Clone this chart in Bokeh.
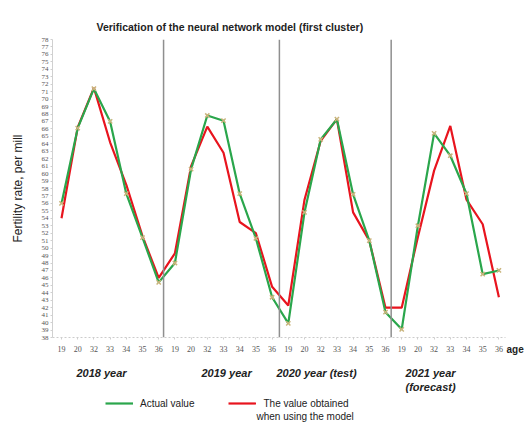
from bokeh.plotting import figure
from bokeh.layouts import column
from bokeh.models import (Range1d, FixedTicker, Span, Legend, LegendItem, LinearAxis, Label)
from bokeh.embed import file_html
from bokeh.resources import INLINE

# ---------------- data ----------------
ages = ["19", "20", "32", "33", "34", "35", "36"] * 4
actual = [56.0, 66.1, 71.4, 67.0, 57.3, 51.4, 45.4,
          48.0, 60.6, 67.8, 67.1, 57.3, 51.3, 43.4,
          39.9, 54.8, 64.6, 67.3, 57.2, 51.0, 41.4,
          39.1, 53.0, 65.4, 62.4, 57.3, 46.5, 47.0]
model = [54.0, 66.2, 71.5, 64.2, 58.5, 51.6, 46.0,
         49.3, 61.0, 66.3, 62.8, 53.5, 52.0, 44.8,
         42.3, 56.5, 64.4, 67.3, 54.8, 51.0, 42.0,
         42.0, 51.5, 60.4, 66.4, 56.5, 53.2, 43.4]
year_labels = ["2018 year", "2019 year", "2020 year (test)", "2021 year\n(forecast)"]
year_label_pos = [2.47, 10.19, 15.74, 22.78]
separators = [6.3, 13.45, 20.35]
y_ticks = list(range(38, 79))
idx = list(range(len(ages)))
age_label_pos = 28.0
series_names = ["Actual value", "The value obtained", "when using the model"]

GREEN = "#2aa64c"
RED = "#e8141e"

# ---------------- main figure ----------------
p = figure(width=524, height=395, output_backend="svg", toolbar_location=None,
           x_range=Range1d(-0.556, 28.58), y_range=Range1d(38, 78),
           min_border_left=52, min_border_right=0, min_border_top=39,
           min_border_bottom=58)
p.outline_line_color = None
p.xgrid.visible = False
p.ygrid.visible = False

p.title.text = "Verification of the neural network model (first cluster)"
p.title.align = "left"
p.title.offset = 44
p.title.text_font = "Liberation Sans"
p.title.text_font_size = "10.5px"
p.title.text_font_style = "bold"
p.title.text_color = "#222222"

# axis above the frame with undrawn labels: only lifts the title
spacer_axis = LinearAxis()
p.add_layout(spacer_axis, "above")

for s in separators:
    p.add_layout(Span(location=s, dimension="height", line_color="#8f8f8f", line_width=1.5))

p.line(idx, model, line_color=RED, line_width=2.2)
p.line(idx, actual, line_color=GREEN, line_width=2.2)
p.scatter(idx, actual, marker="x", size=6, line_color="#c9b47c", line_width=1.5)

# y axis
p.yaxis.ticker = FixedTicker(ticks=y_ticks)
p.yaxis.major_label_text_font = "Liberation Serif"
p.yaxis.major_label_text_font_size = "7px"
p.yaxis.major_label_text_color = "#555555"
p.yaxis.axis_line_color = "#d0d0d0"
p.yaxis.major_tick_line_color = "#d0d0d0"
p.yaxis.major_tick_out = 2
p.yaxis.major_tick_in = 0
p.yaxis.minor_tick_line_color = None
p.yaxis.major_label_standoff = 2
p.yaxis.axis_label = "Fertility rate, per mill"
p.yaxis.axis_label_text_font = "Liberation Sans"
p.yaxis.axis_label_text_font_style = "normal"
p.yaxis.axis_label_text_font_size = "12px"
p.yaxis.axis_label_text_color = "#222222"
p.yaxis.axis_label_standoff = 14

# x axis (ages)
p.xaxis.ticker = FixedTicker(ticks=idx)
p.xaxis.major_label_overrides = {i: a for i, a in zip(idx, ages)}
p.xaxis.major_label_text_font = "Liberation Serif"
p.xaxis.major_label_text_font_size = "8px"
p.xaxis.major_label_text_color = "#555555"
p.xaxis.axis_line_color = "#cccccc"
p.xaxis.axis_line_dash = "2 2"
p.xaxis.bounds = (-0.556, 27.4)
p.xaxis.major_tick_line_color = "#d0d0d0"
p.xaxis.major_tick_out = 2
p.xaxis.major_tick_in = 0
p.xaxis.minor_tick_line_color = None
p.xaxis.major_label_standoff = 6

# hide everything of the spacer axis
spacer_axis.major_label_text_color = None
spacer_axis.axis_line_color = None
spacer_axis.major_tick_line_color = None

age_axis = LinearAxis(ticker=FixedTicker(ticks=[age_label_pos]),
                      major_label_overrides={age_label_pos: "age"},
                      axis_line_color=None, major_tick_line_color=None,
                      minor_tick_line_color=None,
                      major_label_text_font="Liberation Sans",
                      major_label_text_font_size="10px",
                      major_label_text_font_style="bold",
                      major_label_text_color="#222222",
                      major_label_standoff=-17)
year_axis = LinearAxis(ticker=FixedTicker(ticks=year_label_pos),
                       major_label_overrides={k: v for k, v in zip(year_label_pos, year_labels)},
                       axis_line_color=None, major_tick_line_color=None,
                       minor_tick_line_color=None,
                       major_label_text_font="Liberation Sans",
                       major_label_text_font_size="11px",
                       major_label_text_font_style="bold italic",
                       major_label_text_color="#222222",
                       major_label_standoff=3)
p.add_layout(age_axis, "below")
p.add_layout(year_axis, "below")

# ---------------- legend strip ----------------
SH = 29
q = figure(width=524, height=SH, output_backend="svg", toolbar_location=None,
           x_range=p.x_range, y_range=Range1d(0, SH),
           min_border=0, x_axis_type=None, y_axis_type=None)
q.outline_line_color = None
q.xgrid.visible = False
q.ygrid.visible = False
# series drawn again only as legend sources; their values lie above this strip's range
g_src = q.line(idx, actual, line_color=GREEN, line_width=2.2)
r_src = q.line(idx, model, line_color=RED, line_width=2.2)
legend = Legend(items=[LegendItem(label=series_names[0], renderers=[g_src]),
                       LegendItem(label=series_names[1], renderers=[r_src])],
                orientation="horizontal", location=(53, 15),
                padding=0, margin=0, spacing=34, glyph_width=28, glyph_height=12,
                label_standoff=7, label_height=12,
                border_line_color=None, background_fill_alpha=0,
                label_text_font="Liberation Sans", label_text_font_size="10px",
                label_text_color="#222222")
q.add_layout(legend)
q.add_layout(Label(x=(256 - 61) / 16.2, y=8.3, text=series_names[2], text_align="left",
                   text_baseline="middle", text_font="Liberation Sans",
                   text_font_size="10px", text_color="#222222"))

open("out.html", "w").write(file_html(column(p, q), INLINE))
